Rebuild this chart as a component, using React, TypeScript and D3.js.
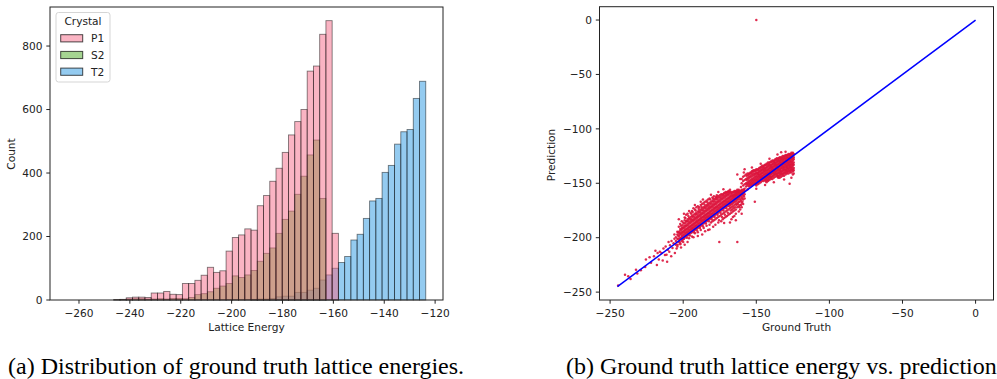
import React from "react";
import * as d3 from "d3";

// histogram bins (shared by all crystal types)
const BIN_START = -263.5;
const BIN_WIDTH = 2.453;

const countsP1 = [
  0, 0, 0, 0, 0, 0, 0, 1, 2, 7, 9, 9, 8, 22, 22, 27, 18, 17, 52, 52, 62, 78, 103, 87, 92, 154, 197, 205, 224,
  220, 297, 329, 374, 415, 465, 520, 562, 600, 721, 737, 837, 880, 210, 0, 0, 0, 0, 0, 0, 0, 0, 0, 0, 0, 0, 0, 0,
];
const countsS2 = [
  0, 0, 0, 0, 0, 0, 0, 1, 1, 3, 4, 4, 3, 3, 4, 3, 5, 5, 4, 8, 17, 20, 26, 37, 44, 52, 76, 71, 79, 93, 122, 147,
  164, 210, 254, 280, 333, 390, 457, 504, 320, 0, 0, 0, 0, 0, 0, 0, 0, 0, 0, 0, 0, 0, 0, 0, 0,
];
const countsT2 = [
  0, 0, 0, 0, 0, 0, 0, 0, 0, 0, 0, 0, 0, 0, 0, 0, 0, 0, 0, 0, 0, 0, 0, 0, 0, 0, 0, 0, 0, 2, 3, 3, 5, 10, 12, 12,
  24, 24, 31, 37, 63, 79, 100, 118, 137, 189, 207, 257, 312, 320, 402, 424, 491, 530, 537, 635, 689,
];
const crystalNames = ["P1", "S2", "T2"];
const crystalColors = ["#f56987", "#4ba923", "#2997e1"];

const histXTicks = [-260, -240, -220, -200, -180, -160, -140, -120];
const histYTicks = [0, 200, 400, 600, 800];
const scatterTicks = [-250, -200, -150, -100, -50, 0];

// scatter: [ground truth, prediction]
const tailPoints: [number, number][] = [
  [-244.5, -244], [-239.8, -234], [-237.6, -235.5], [-236, -238], [-232.3, -229.4], [-231.4, -233],
  [-229, -230], [-226, -227], [-225.5, -220], [-222, -223], [-220, -217], [-218, -225], [-217.5, -214],
  [-216.7, -220], [-216, -213], [-214.8, -214], [-214, -221], [-213.5, -210], [-212.5, -216], [-212, -208],
  [-211.4, -215.6], [-211, -222], [-210.5, -211], [-210, -204], [-209.5, -213], [-209, -207], [-208.2, -217],
  [-208, -203], [-207.3, -209.5], [-206.6, -205], [-206, -201], [-205.7, -214], [-204.5, -210], [-203.8, -206.5],
  [-202, -206], [-201.5, -209], [-219, -212], [-223, -218],
];

// ground truth column -> predictions (P1 / S2 region)
const lowCluster: [number, number[]][] = [
  [-205, [-203, -199.5, -206.5]],
  [-204, [-197, -201, -208, -194.5]],
  [-203, [-199, -195.5, -204, -190]],
  [-202, [-196, -200.5, -192, -205, -187.5]],
  [-201, [-195, -198.5, -191, -203, -185]],
  [-200, [-194, -197, -190.5, -201.5, -186, -204]],
  [-199, [-193, -196, -189, -200, -184, -181.5]],
  [-198, [-192, -195, -188.5, -199, -185, -179]],
  [-197, [-191, -194, -187, -198, -183, -178]],
  [-196, [-190, -193, -186, -197, -182, -200.5]],
  [-195, [-189, -192, -185, -196, -181, -177]],
  [-194, [-188, -191, -184, -195, -180, -175.5, -199]],
  [-193, [-187, -190, -183, -194, -179, -173]],
  [-192, [-186, -189, -182, -193, -178, -196, -174]],
  [-191, [-185, -188, -181, -192, -177, -172]],
  [-190, [-184, -187, -180, -191, -176, -195, -171]],
  [-189, [-183, -186, -179, -190, -175, -172]],
  [-188, [-182, -185, -178, -189, -174, -193, -170]],
  [-187, [-181, -184, -177, -188, -173, -169, -197]],
  [-186, [-180, -183, -176, -187, -172, -191, -168]],
  [-185, [-179, -182, -175, -186, -171, -167]],
  [-184, [-178, -181, -174, -185, -170, -189, -166]],
  [-183, [-177, -180, -173, -184, -169, -165, -193]],
  [-182, [-176, -179, -172, -183, -168, -188, -164]],
  [-181, [-175, -178, -171, -182, -167, -186]],
  [-180, [-174, -177, -170, -181, -166, -185, -163]],
  [-179, [-173, -176, -169, -180, -165, -184, -162]],
  [-178, [-172, -175, -168, -179, -164, -183, -188]],
  [-177, [-171, -174, -167, -178, -163, -182, -161]],
  [-176, [-170, -173, -166, -177, -162, -181, -186]],
  [-175, [-169, -172, -165, -176, -161, -180]],
  [-174, [-168, -171, -164, -175, -160, -179, -185]],
  [-173, [-167, -170, -163, -174, -160, -178, -183]],
  [-172, [-166, -169, -162, -173, -159, -177, -182]],
  [-171, [-165, -168, -161, -172, -158, -176, -181]],
  [-170, [-164, -167, -160, -171, -158, -175, -180]],
  [-169, [-163, -166, -159, -170, -157, -174, -179]],
  [-168, [-162, -165, -158, -169, -156, -173, -178]],
  [-167, [-161, -164, -158, -168, -172, -177, -183]],
  [-166, [-161, -163, -158, -167, -171, -176, -181]],
  [-165, [-160, -162, -157, -166, -170, -175, -180]],
  [-164, [-159, -161, -157, -165, -169, -174, -178]],
  [-163, [-158, -160, -156, -164, -168, -172]],
  [-162, [-157, -159, -156, -163, -167, -171, -176]],
  [-161, [-157, -159, -161, -165, -170, -174]],
  [-160, [-156, -158, -160, -164, -168, -172]],
  [-159, [-156, -158, -161, -165, -169]],
  [-158, [-155, -157, -160, -164]],
];

const lowClusterFill: [number, number[]][] = [
  [-203.5, [-198, -201.5, -195]],
  [-202.5, [-197.5, -194, -201, -203.5]],
  [-201.5, [-196.5, -193, -200, -189]],
  [-200.5, [-195.5, -192, -199, -188.5, -202]],
  [-199.5, [-194.5, -191, -198, -187, -201]],
  [-198.5, [-193.5, -190, -197, -186.5, -182]],
  [-197.5, [-192.5, -189, -196, -185, -200]],
  [-196.5, [-191.5, -188, -195, -184.5, -180]],
  [-195.5, [-190.5, -187, -194, -183, -198]],
  [-194.5, [-189.5, -186, -193, -182.5, -178]],
  [-193.5, [-188.5, -185, -192, -181, -176.5]],
  [-192.5, [-187.5, -184, -191, -180.5, -195]],
  [-191.5, [-186.5, -183, -190, -179, -175]],
  [-190.5, [-185.5, -182, -189, -178.5, -193.5]],
  [-189.5, [-184.5, -181, -188, -177, -173.5]],
  [-188.5, [-183.5, -180, -187, -176.5, -191]],
  [-187.5, [-182.5, -179, -186, -175, -171.5]],
  [-186.5, [-181.5, -178, -185, -174.5, -189.5]],
  [-185.5, [-180.5, -177, -184, -173, -169.5]],
  [-184.5, [-179.5, -176, -183, -172.5, -187]],
  [-183.5, [-178.5, -175, -182, -171, -167.5]],
  [-182.5, [-177.5, -174, -181, -170.5, -185]],
  [-181.5, [-176.5, -173, -180, -169, -165]],
  [-180.5, [-175.5, -172, -179, -168.5, -183]],
  [-179.5, [-174.5, -171, -178, -167, -164]],
  [-178.5, [-173.5, -170, -177, -166.5, -181]],
  [-177.5, [-172.5, -169, -176, -165, -162.5]],
  [-176.5, [-171.5, -168, -175, -164.5, -179]],
  [-175.5, [-170.5, -167, -174, -163, -184]],
  [-174.5, [-169.5, -166, -173, -162.5, -177]],
  [-173.5, [-168.5, -165, -172, -161.5, -181]],
  [-172.5, [-167.5, -164, -171, -160.5, -175]],
  [-171.5, [-166.5, -163, -170, -159.5, -179]],
  [-170.5, [-165.5, -162, -169, -159, -173]],
  [-169.5, [-164.5, -161, -168, -158, -177]],
  [-168.5, [-163.5, -160, -167, -157.5, -171]],
  [-167.5, [-162.5, -159.5, -166, -170, -175]],
  [-166.5, [-162, -159.5, -165, -169, -174]],
  [-165.5, [-161.5, -158.5, -164, -168, -173]],
  [-164.5, [-160.5, -158, -163, -167, -172]],
  [-163.5, [-159.5, -157.5, -162, -166, -170]],
  [-162.5, [-158.5, -157, -161, -165, -169]],
  [-161.5, [-158, -160, -163, -167, -172]],
  [-160.5, [-157, -159, -162, -166, -170]],
  [-159.5, [-157, -159.5, -163, -167]],
  [-158.5, [-156, -158.5, -162]],
];

// ground truth column -> predictions (T2 region)
const highCluster: [number, number[]][] = [
  [-161, [-146]],
  [-160, [-146, -150]],
  [-159, [-144, -148, -152]],
  [-158, [-143, -147, -151]],
  [-157, [-142, -146, -150, -153]],
  [-156, [-141, -145, -149, -152]],
  [-155, [-141, -144, -148, -151, -153]],
  [-154, [-140, -143, -147, -150, -152]],
  [-153, [-139, -142, -146, -149, -152]],
  [-152, [-138, -141, -145, -148, -151]],
  [-151, [-138, -141, -144, -147, -150]],
  [-150, [-137, -140, -143, -146, -149, -152]],
  [-149, [-137, -140, -142, -145, -148, -151]],
  [-148, [-136, -139, -142, -144, -147, -150]],
  [-147, [-135, -138, -141, -144, -146, -149]],
  [-146, [-134, -137, -140, -143, -145, -148]],
  [-145, [-134, -136, -139, -142, -145, -148]],
  [-144, [-133, -136, -138, -141, -144, -147]],
  [-143, [-132, -135, -138, -141, -143, -146, -149]],
  [-142, [-131, -134, -137, -140, -142, -145, -148]],
  [-141, [-131, -133, -136, -139, -142, -144, -147]],
  [-140, [-130, -133, -135, -138, -141, -144, -146]],
  [-139, [-129, -132, -135, -137, -140, -143, -146]],
  [-138, [-129, -131, -134, -137, -139, -142, -145]],
  [-137, [-128, -131, -133, -136, -139, -141, -144]],
  [-136, [-127, -130, -133, -135, -138, -141, -143]],
  [-135, [-127, -129, -132, -135, -137, -140, -143, -145]],
  [-134, [-126, -129, -131, -134, -137, -139, -142, -145]],
  [-133, [-126, -128, -131, -133, -136, -139, -141, -144]],
  [-132, [-125, -128, -130, -133, -135, -138, -141, -143]],
  [-131, [-125, -127, -130, -132, -135, -137, -140, -143]],
  [-130, [-124, -127, -129, -132, -134, -137, -139, -142]],
  [-129, [-124, -126, -129, -131, -134, -136, -139, -141]],
  [-128, [-123, -126, -128, -131, -133, -136, -138, -141]],
  [-127, [-123, -125, -128, -130, -133, -135, -138, -140]],
  [-126, [-122, -125, -127, -130, -132, -135, -137, -140]],
  [-125, [-122, -124, -127, -129, -132, -134, -137, -139, -142]],
  [-124.4, [-123, -126, -128, -131, -133, -136, -138, -141]],
];

const highClusterFill: [number, number[]][] = [
  [-156.5, [-143, -147, -151]],
  [-155.5, [-142.5, -146, -150]],
  [-154.5, [-141.5, -145, -149, -152]],
  [-153.5, [-140.5, -144, -148, -151]],
  [-152.5, [-139.5, -143, -147, -150]],
  [-151.5, [-139, -142.5, -146, -149]],
  [-150.5, [-138.5, -141.5, -145, -148, -151]],
  [-149.5, [-138, -141, -144, -147, -150]],
  [-148.5, [-137.5, -140.5, -143, -146, -149]],
  [-147.5, [-136.5, -139.5, -142.5, -145, -148]],
  [-146.5, [-135.5, -138.5, -141.5, -144, -147]],
  [-145.5, [-135, -137.5, -140.5, -143.5, -146.5]],
  [-144.5, [-134, -137, -139.5, -142.5, -145.5]],
  [-143.5, [-133.5, -136.5, -139.5, -142, -145, -148]],
  [-142.5, [-132.5, -135.5, -138.5, -141, -144, -147]],
  [-141.5, [-132, -134.5, -137.5, -140.5, -143, -146]],
  [-140.5, [-131, -134, -136.5, -139.5, -142.5, -145]],
  [-139.5, [-130.5, -133.5, -136, -138.5, -141.5, -144.5]],
  [-138.5, [-130, -132.5, -135.5, -138, -140.5, -143.5]],
  [-137.5, [-129.5, -132, -134.5, -137.5, -140, -142.5]],
  [-136.5, [-128.5, -131.5, -134, -136.5, -139.5, -142]],
  [-135.5, [-128, -130.5, -133.5, -136, -138.5, -141.5, -144]],
  [-134.5, [-127.5, -130, -132.5, -135.5, -138, -140.5, -143.5]],
  [-133.5, [-127, -129.5, -132, -134.5, -137.5, -140, -142.5]],
  [-132.5, [-126.5, -129, -131.5, -134, -136.5, -139.5, -142]],
  [-131.5, [-126, -128.5, -131, -133.5, -136, -138.5, -141.5]],
  [-130.5, [-125.5, -128, -130.5, -133, -135.5, -138, -140.5]],
  [-129.5, [-125, -127.5, -130, -132.5, -135, -137.5, -140]],
  [-128.5, [-124.5, -127, -129.5, -132, -134.5, -137, -139.5]],
  [-127.5, [-124, -126.5, -129, -131.5, -134, -136.5, -139]],
  [-126.5, [-123.5, -126, -128.5, -131, -133.5, -136, -138.5]],
  [-125.5, [-123, -125.5, -128, -130.5, -133, -135.5, -138]],
];

// loose points around the two clusters
const haloPoints: [number, number][] = [
  [-203, -183], [-199.5, -178], [-196, -175.5], [-192, -170], [-186.5, -165], [-181, -160.5], [-176, -158],
  [-172.5, -155.5], [-206, -197], [-199, -206.5], [-193, -199.5], [-185, -194], [-179.5, -190], [-172, -186.5],
  [-168, -186], [-164, -184], [-160, -178], [-190, -198.5], [-182, -192.5], [-197, -204], [-188, -167],
  [-158, -137], [-153, -135.5], [-147, -132], [-141, -127.5], [-135.5, -123.5], [-130, -121], [-156, -155.5],
  [-150, -155], [-144, -151.5], [-138, -149], [-131, -146.5], [-126, -145], [-160.5, -153.5], [-133, -121.5],
];

const outlierPoints: [number, number][] = [
  [-150, 0], [-163, -204], [-175.3, -204], [-127.2, -150.5], [-151, -167], [-163, -142], [-158.5, -140],
];

const identityLine = [-245, 0];

const FONT = "DejaVu Sans, sans-serif";
const TEXT = "#222";

const columnsToPoints = (cols: [number, number[]][]) =>
  cols.flatMap(([gt, preds]) => preds.map((p) => [gt, p] as [number, number]));

export default function App() {
  // ---- left: histogram ----
  const hx = d3.scaleLinear().domain([-271.4, -116.9]).range([50, 443]);
  const hy = d3.scaleLinear().domain([0, 923]).range([300, 7]);

  // drawn back to front: T2, S2, P1
  const layers = [
    { counts: countsT2, color: crystalColors[2] },
    { counts: countsS2, color: crystalColors[1] },
    { counts: countsP1, color: crystalColors[0] },
  ];

  // ---- right: scatter ----
  const sx = d3.scaleLinear().domain([-257.25, 12.25]).range([599.5, 993.5]);
  const sy = d3.scaleLinear().domain([-257.25, 12.25]).range([300, 6.7]);

  const points: [number, number][] = [
    ...tailPoints,
    ...columnsToPoints(lowCluster),
    ...columnsToPoints(lowClusterFill),
    ...columnsToPoints(highCluster),
    ...columnsToPoints(highClusterFill),
    ...haloPoints,
    ...outlierPoints,
  ];

  const fmt = d3.format("d");

  return (
    <svg
      width={997}
      height={379}
      style={{ position: "absolute", left: 0, top: 0, display: "block", background: "#fff" }}
      fontFamily={FONT}
    >
      {/* histogram bars */}
      <g>
        {layers.map((layer, li) =>
          layer.counts.map((c, i) => {
            if (!c) return null;
            const x0 = hx(BIN_START + i * BIN_WIDTH);
            const x1 = hx(BIN_START + (i + 1) * BIN_WIDTH);
            return (
              <rect
                key={`${li}-${i}`}
                x={x0}
                y={hy(c)}
                width={x1 - x0}
                height={hy(0) - hy(c)}
                fill={layer.color}
                fillOpacity={0.5}
                stroke="#000"
                strokeOpacity={0.5}
                strokeWidth={0.9}
              />
            );
          })
        )}
      </g>
      <rect x={50} y={7} width={393} height={293} fill="none" stroke={TEXT} strokeWidth={1} />
      {histXTicks.map((t) => (
        <g key={`hx${t}`}>
          <line x1={hx(t)} x2={hx(t)} y1={300} y2={303.7} stroke={TEXT} />
          <text x={hx(t)} y={317} fontSize={10.6} textAnchor="middle" fill={TEXT}>
            {fmt(t)}
          </text>
        </g>
      ))}
      {histYTicks.map((t) => (
        <g key={`hy${t}`}>
          <line x1={46.3} x2={50} y1={hy(t)} y2={hy(t)} stroke={TEXT} />
          <text x={42.6} y={hy(t) + 3.8} fontSize={10.6} textAnchor="end" fill={TEXT}>
            {fmt(t)}
          </text>
        </g>
      ))}
      <text x={246.5} y={331} fontSize={10.6} textAnchor="middle" fill={TEXT}>
        Lattice Energy
      </text>
      <text transform="translate(14.8,154) rotate(-90)" fontSize={10.6} textAnchor="middle" fill={TEXT}>
        Count
      </text>

      {/* legend */}
      <rect x={56} y={12.5} width={54} height={69.5} rx={2.5} fill="#fff" fillOpacity={0.8} stroke="#d5d5d5" />
      <text x={83} y={25} fontSize={10.6} textAnchor="middle" fill={TEXT}>
        Crystal
      </text>
      {crystalNames.map((name, i) => {
        const cy = 38.3 + i * 16.7;
        return (
          <g key={name}>
            <rect
              x={60.7}
              y={cy - 3.6}
              width={22}
              height={7.2}
              fill={crystalColors[i]}
              fillOpacity={0.5}
              stroke="#000"
              strokeOpacity={0.7}
              strokeWidth={1}
            />
            <text x={91} y={cy + 3.8} fontSize={10.6} fill={TEXT}>
              {name}
            </text>
          </g>
        );
      })}

      {/* scatter */}
      <g>
        {points.map(([gt, pred], i) => (
          <circle key={i} cx={sx(gt)} cy={sy(pred)} r={1.25} fill="#dc143c" fillOpacity={0.9} />
        ))}
      </g>
      <line
        x1={sx(identityLine[0])}
        y1={sy(identityLine[0])}
        x2={sx(identityLine[1])}
        y2={sy(identityLine[1])}
        stroke="#0000ff"
        strokeWidth={1.5}
      />
      <rect x={599.5} y={6.7} width={394} height={293.3} fill="none" stroke={TEXT} strokeWidth={1} />
      {scatterTicks.map((t) => (
        <g key={`sx${t}`}>
          <line x1={sx(t)} x2={sx(t)} y1={300} y2={303.7} stroke={TEXT} />
          <text x={sx(t)} y={317} fontSize={10.6} textAnchor="middle" fill={TEXT}>
            {fmt(t)}
          </text>
        </g>
      ))}
      {scatterTicks.map((t) => (
        <g key={`sy${t}`}>
          <line x1={595.8} x2={599.5} y1={sy(t)} y2={sy(t)} stroke={TEXT} />
          <text x={592} y={sy(t) + 3.8} fontSize={10.6} textAnchor="end" fill={TEXT}>
            {fmt(t)}
          </text>
        </g>
      ))}
      <text x={796.5} y={331} fontSize={10.6} textAnchor="middle" fill={TEXT}>
        Ground Truth
      </text>
      <text transform="translate(555,155) rotate(-90)" fontSize={10.6} textAnchor="middle" fill={TEXT}>
        Prediction
      </text>

      {/* captions */}
      <text x={8} y={374} fontSize={24} fontFamily="Liberation Serif, serif" fill="#000">
        (a) Distribution of ground truth lattice energies.
      </text>
      <text x={566} y={374} fontSize={24} fontFamily="Liberation Serif, serif" fill="#000">
        (b) Ground truth lattice energy vs. prediction
      </text>
    </svg>
  );
}
